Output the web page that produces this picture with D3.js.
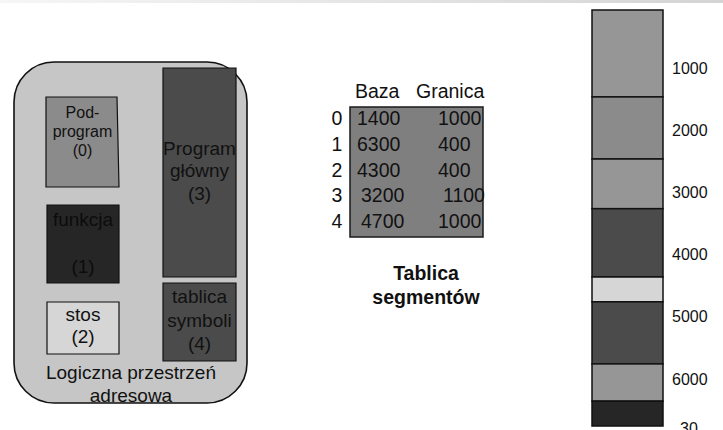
<!DOCTYPE html>
<html>
<head>
<meta charset="utf-8">
<script src="https://cdn.jsdelivr.net/npm/d3@7/dist/d3.min.js"></script>
<style>
  html, body { margin: 0; padding: 0; background: #fff; }
  svg { display: block; font-family: "Liberation Sans", Arial, Helvetica, sans-serif; }
</style>
</head>
<body>
<div id="chart"></div>
<script>
// Segment table (logical address space -> physical memory)
const segmentIds = [0, 1, 2, 3, 4];
const segmentBase = [1400, 6300, 4300, 3200, 4700];
const segmentLimit = [1000, 400, 400, 1100, 1000];
const segmentNames = [
  ['Pod-', 'program', '(0)'],
  ['funkcja', '(1)'],
  ['stos', '(2)'],
  ['Program', 'główny', '(3)'],
  ['tablica', 'symboli', '(4)'],
];

// Physical memory axis
const memoryTop = 0;
const memoryBottom = 6700;
const tickValues = [1000, 2000, 3000, 4000, 5000, 6000];
const cutLabel = '30';

const tableHeader = ['Baza', 'Granica'];
const tableTitle = ['Tablica', 'segmentów'];
const spaceTitle = ['Logiczna przestrzeń', 'adresowa'];

// Styles
const segFill = ['#8b8b8b', '#262626', '#d6d6d6', '#4b4b4b', '#4b4b4b'];
const holeFill = '#969696';

const width = 723;
const height = 430;

const svg = d3.select('#chart').append('svg').attr('width', width).attr('height', height);

// faint shadow band along the top edge
const grad = svg.append('defs').append('linearGradient').attr('id', 'topfade')
  .attr('x1', 0).attr('x2', 1).attr('y1', 0).attr('y2', 0);
grad.append('stop').attr('offset', '0%').attr('stop-color', '#f6f6f6');
grad.append('stop').attr('offset', '100%').attr('stop-color', '#d4d4d4');
svg.append('rect').attr('x', 0).attr('y', 0).attr('width', width).attr('height', 3)
  .attr('fill', 'url(#topfade)');

// ---- Logical address space ----
const left = svg.append('g').attr('class', 'logical');

left.append('rect')
  .attr('x', 14).attr('y', 62).attr('width', 233).attr('height', 341)
  .attr('rx', 40).attr('ry', 40)
  .attr('fill', '#c6c6c6').attr('stroke', '#111').attr('stroke-width', 1.6);

// box layout for each segment (x, y, w, h, baselines, font size)
const boxes = [
  { x: 46, y: 97, w: 73, h: 90, skew: 2, size: 16, lines: [118, 137, 156] },
  { x: 47, y: 205, w: 72, h: 78, skew: 0, size: 19, lines: [226, 273] },
  { x: 47, y: 302, w: 72, h: 52, skew: 0, size: 19, lines: [321, 343] },
  { x: 163, y: 68, w: 73, h: 209, skew: 0, size: 19, lines: [155, 177, 200] },
  { x: 163, y: 283, w: 73, h: 78, skew: 0, size: 19, lines: [303, 327, 350] },
];

const segGroups = left.selectAll('g.seg')
  .data(segmentIds)
  .join('g')
  .attr('class', 'seg');

segGroups.append('path')
  .attr('d', (id) => {
    const b = boxes[id];
    // top-right corner pulled in a little for the sub-program box
    return `M${b.x},${b.y}H${b.x + b.w - b.skew}L${b.x + b.w},${b.y + b.h}H${b.x}Z`;
  })
  .attr('fill', (id) => segFill[id])
  .attr('stroke', '#111').attr('stroke-width', 1.2);

segGroups.each(function (id) {
  const b = boxes[id];
  d3.select(this).selectAll('text')
    .data(segmentNames[id])
    .join('text')
    .attr('x', b.x + b.w / 2)
    .attr('y', (d, i) => b.lines[i])
    .attr('text-anchor', 'middle')
    .attr('font-size', b.size)
    .attr('fill', id === 1 ? '#0c0c0c' : '#111')
    .text((d) => d);
});

left.selectAll('text.caption')
  .data(spaceTitle)
  .join('text')
  .attr('class', 'caption')
  .attr('x', 131)
  .attr('y', (d, i) => 379 + i * 23)
  .attr('text-anchor', 'middle')
  .attr('font-size', 19)
  .attr('fill', '#111')
  .text((d) => d);

// ---- Segment table ----
const table = svg.append('g').attr('class', 'table');
const rowY = d3.scalePoint().domain(segmentIds).range([125, 228]);
const tableFont = 19.5;

table.append('rect')
  .attr('x', 350).attr('y', 107).attr('width', 133).attr('height', 130)
  .attr('fill', '#7f7f7f').attr('stroke', '#1a1a1a').attr('stroke-width', 1.5);

table.selectAll('text.head')
  .data(tableHeader)
  .join('text')
  .attr('class', 'head')
  .attr('x', (d, i) => (i === 0 ? 355 : 416))
  .attr('y', 98)
  .attr('font-size', tableFont)
  .attr('fill', '#111')
  .text((d) => d);

table.selectAll('text.idx')
  .data(segmentIds)
  .join('text')
  .attr('class', 'idx')
  .attr('x', 337)
  .attr('y', (d) => rowY(d))
  .attr('text-anchor', 'middle')
  .attr('font-size', tableFont)
  .attr('fill', '#111')
  .text((d) => d);

table.selectAll('text.base')
  .data(segmentIds)
  .join('text')
  .attr('class', 'base')
  .attr('x', (d) => (d === 3 || d === 4 ? 361 : 357))
  .attr('y', (d) => rowY(d))
  .attr('font-size', tableFont)
  .attr('fill', '#111')
  .text((d) => segmentBase[d]);

table.selectAll('text.limit')
  .data(segmentIds)
  .join('text')
  .attr('class', 'limit')
  .attr('x', (d) => (d === 3 ? 443 : 438))
  .attr('y', (d) => rowY(d))
  .attr('font-size', tableFont)
  .attr('fill', '#111')
  .text((d) => segmentLimit[d]);

table.selectAll('text.title')
  .data(tableTitle)
  .join('text')
  .attr('class', 'title')
  .attr('x', 426)
  .attr('y', (d, i) => 280 + i * 24)
  .attr('text-anchor', 'middle')
  .attr('font-size', 19.5)
  .attr('font-weight', 'bold')
  .attr('fill', '#111')
  .text((d) => d);

// ---- Physical memory ----
const mem = svg.append('g').attr('class', 'memory');
const y = d3.scaleLinear().domain([memoryTop, memoryBottom]).range([10, 426]);

// segments placed by base/limit, free holes fill the gaps
const placed = segmentIds
  .map((id) => ({ id, start: segmentBase[id], end: segmentBase[id] + segmentLimit[id] }))
  .sort((a, b) => a.start - b.start);
const blocks = [];
let cursor = memoryTop;
for (const s of placed) {
  if (s.start > cursor) blocks.push({ id: null, start: cursor, end: s.start });
  blocks.push(s);
  cursor = s.end;
}
if (cursor < memoryBottom) blocks.push({ id: null, start: cursor, end: memoryBottom });

mem.selectAll('rect.block')
  .data(blocks)
  .join('rect')
  .attr('class', 'block')
  .attr('x', 592)
  .attr('width', 71)
  .attr('y', (d) => y(d.start))
  .attr('height', (d) => y(d.end) - y(d.start))
  .attr('fill', (d) => (d.id === null ? holeFill : segFill[d.id]))
  .attr('stroke', '#111')
  .attr('stroke-width', 1.5);

mem.selectAll('text.tick')
  .data(tickValues)
  .join('text')
  .attr('class', 'tick')
  .attr('x', 672)
  .attr('y', (d) => y(d) + 2)
  .attr('font-size', 16)
  .attr('fill', '#111')
  .text((d) => d);

// label running off the bottom edge, as in the source picture
mem.append('text')
  .attr('x', 680)
  .attr('y', 434)
  .attr('font-size', 16)
  .attr('fill', '#111')
  .text(cutLabel);
</script>
</body>
</html>
